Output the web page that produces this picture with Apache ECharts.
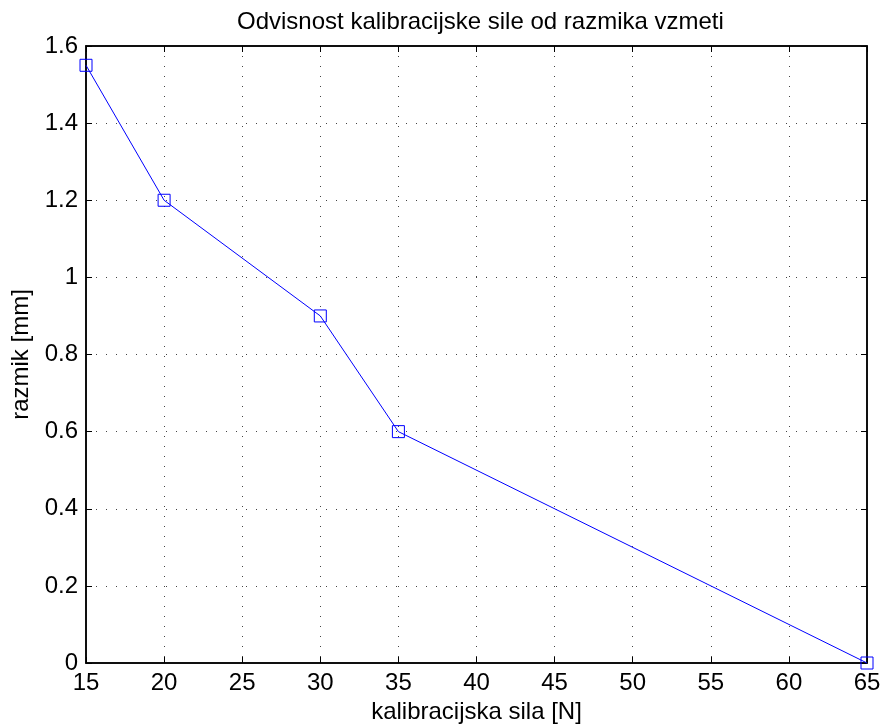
<!DOCTYPE html>
<html><head><meta charset="utf-8">
<script src="https://cdn.jsdelivr.net/npm/echarts@6/dist/echarts.min.js"></script>
<style>html,body{margin:0;padding:0;background:#fff}#c{width:882px;height:726px}</style>
</head><body><div id="c"></div>
<script>
const xValues = [15, 20, 30, 35, 65];
const yValues = [1.55, 1.2, 0.9, 0.6, 0];
const titleText = 'Odvisnost kalibracijske sile od razmika vzmeti';
const xName = 'kalibracijska sila [N]';
const yName = 'razmik [mm]';

const font = "'Liberation Sans', Arial, sans-serif";
const fs = 24;
const gridStyle = {color: '#444', type: [1, 9], width: 1};
const chart = echarts.init(document.getElementById('c'));
const sideX = {type:'value', min:15, max:65, interval:5, gridIndex:0};
const sideY = {type:'value', min:0, max:1.6, interval:0.2, gridIndex:0};
chart.setOption({
  animation:false,
  backgroundColor:'#fff',
  title:{text:titleText, left:232, top:5, textStyle:{fontFamily:font, fontSize:fs, fontWeight:'normal', color:'#000'}},
  grid:{left:86, right:15, top:46, bottom:63, outerBoundsMode:'none', show:true, borderColor:'#000', borderWidth:1.5, backgroundColor:'transparent'},
  xAxis:[
    Object.assign({}, sideX, {position:'bottom', name:xName, nameLocation:'middle', nameGap:36,
      nameTextStyle:{fontFamily:font, fontSize:fs, color:'#000'},
      axisLine:{show:true, onZero:false, lineStyle:{color:'#000', width:1.5}},
      axisTick:{show:true, inside:true, length:6, lineStyle:{color:'#000'}},
      axisLabel:{fontFamily:font, fontSize:fs, color:'#000', margin:8},
      splitLine:{show:true, lineStyle:gridStyle}}),
    Object.assign({}, sideX, {position:'top',
      axisLine:{show:true, onZero:false, lineStyle:{color:'#000', width:1.5}},
      axisTick:{show:true, inside:true, length:6, lineStyle:{color:'#000'}},
      axisLabel:{show:false}, splitLine:{show:false}})
  ],
  yAxis:[
    Object.assign({}, sideY, {position:'left', name:yName, nameLocation:'middle', nameGap:52,
      nameTextStyle:{fontFamily:font, fontSize:fs, color:'#000'},
      axisLine:{show:true, onZero:false, lineStyle:{color:'#000', width:1.5}},
      axisTick:{show:true, inside:true, length:6, lineStyle:{color:'#000'}},
      axisLabel:{fontFamily:font, fontSize:fs, color:'#000', margin:8},
      splitLine:{show:true, lineStyle:gridStyle}}),
    Object.assign({}, sideY, {position:'right',
      axisLine:{show:true, onZero:false, lineStyle:{color:'#000', width:1.5}},
      axisTick:{show:true, inside:true, length:6, lineStyle:{color:'#000'}},
      axisLabel:{show:false}, splitLine:{show:false}})
  ],
  series:[{
    type:'line',
    xAxisIndex:0, yAxisIndex:0,
    data:xValues.map((x,i)=>[x, yValues[i]]),
    lineStyle:{color:'#0000ff', width:1},
    symbol:'rect', symbolSize:12,
    itemStyle:{color:'transparent', borderColor:'#0000ff', borderWidth:1},
    clip:false, z:5
  }]
});
</script></body></html>
